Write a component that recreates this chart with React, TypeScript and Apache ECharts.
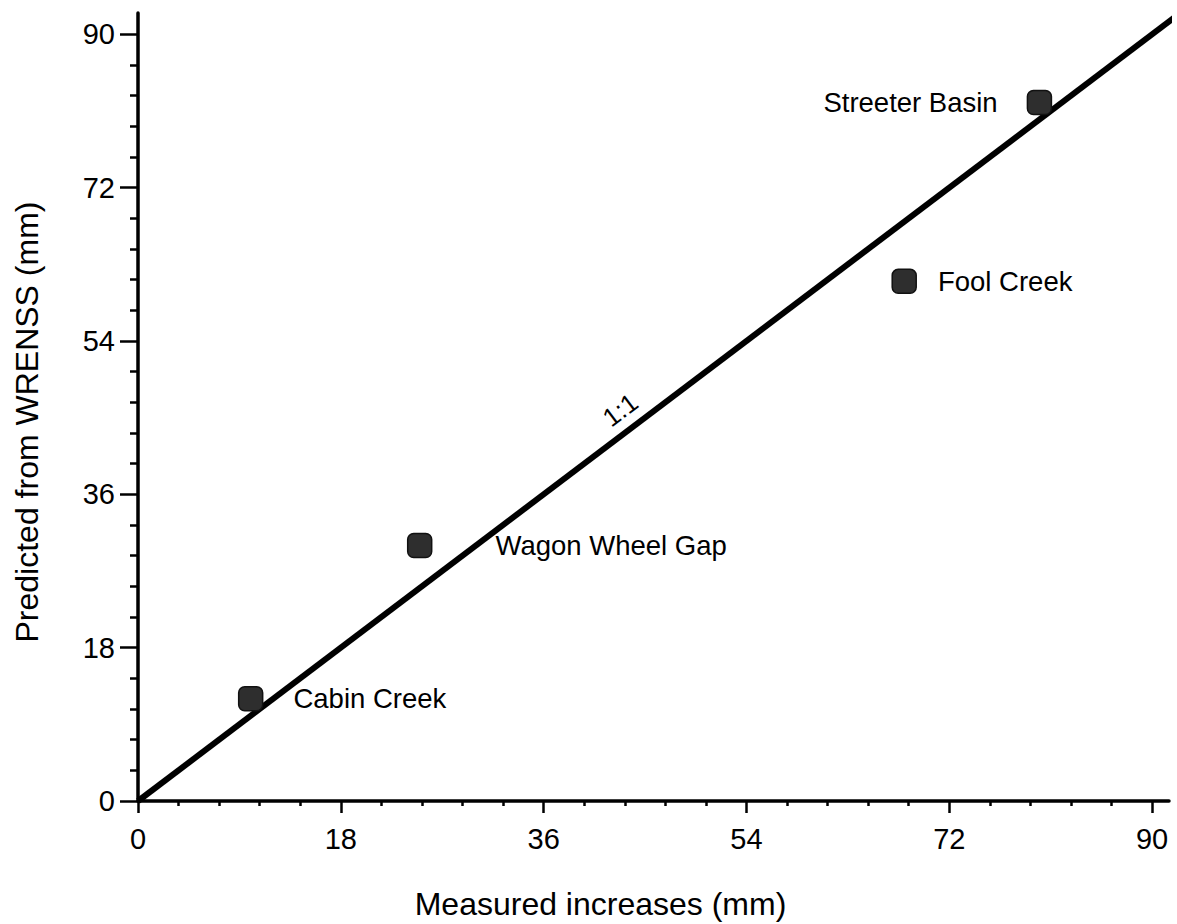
import React, { useEffect, useRef } from "react";
import * as echarts from "echarts";

const siteNames = ["Cabin Creek", "Wagon Wheel Gap", "Fool Creek", "Streeter Basin"];
const measured = [10, 25, 68, 80];
const predicted = [12, 30, 61, 82];
const labelSide = ["right", "right", "right", "left"];
const labelGap = [30, 63, 21, 29];

const majorTicks = [0, 18, 36, 54, 72, 90];
const minorTicks = [3.6, 7.2, 10.8, 14.4, 21.6, 25.2, 28.8, 32.4, 39.6, 43.2, 46.8, 50.4, 57.6, 61.2, 64.8, 68.4, 75.6, 79.2, 82.8, 86.4];
const oneToOne = [[0, 0], [94, 94]];
const oneToOneLabelAt = [42.8, 45.9];

const FONT = '"Liberation Sans", Arial, Helvetica, sans-serif';

export default function App() {
  const ref = useRef<HTMLDivElement>(null);
  useEffect(() => {
    if (!ref.current) return;
    const chart = echarts.init(ref.current, null, { renderer: "svg" });
    const axisLineStyle = { color: "#000", width: 3.5 };
    const makeMinorAxis = (max: number, len: number) => ({
      type: "value",
      min: 0,
      max,
      gridIndex: 0,
      axisLine: { show: false },
      axisLabel: { show: false },
      splitLine: { show: false },
      axisTick: { show: true, customValues: minorTicks, length: len, lineStyle: { color: "#000", width: 2.5 } },
    });
    chart.setOption({
      animation: false,
      backgroundColor: "#fff",
      textStyle: { fontFamily: FONT },
      grid: { left: 138, right: 8, top: 13, bottom: 123, containLabel: false, outerBoundsMode: "none" },
      xAxis: [
        {
          type: "value",
          min: 0,
          max: 91.5,
          position: "bottom",
          name: "Measured increases (mm)",
          nameLocation: "middle",
          nameGap: 87,
          nameTextStyle: { fontSize: 32, color: "#000", fontFamily: FONT, padding: [0, 106, 0, 0] },
          axisLine: { show: true, onZero: false, lineStyle: axisLineStyle },
          axisTick: { show: true, customValues: majorTicks, length: 12, lineStyle: { color: "#000", width: 2.5 } },
          axisLabel: { show: true, customValues: majorTicks, margin: 23, fontSize: 29, color: "#000", fontFamily: FONT },
          splitLine: { show: false },
        },
        { ...makeMinorAxis(91.5, 5), position: "bottom" },
      ],
      yAxis: [
        {
          type: "value",
          min: 0,
          max: 92.5,
          position: "left",
          name: "Predicted from WRENSS (mm)",
          nameLocation: "middle",
          nameGap: 95,
          nameTextStyle: { fontSize: 32, color: "#000", fontFamily: FONT, padding: [0, 30, 0, 0] },
          axisLine: { show: true, onZero: false, lineStyle: axisLineStyle },
          axisTick: { show: true, customValues: majorTicks, length: 18, lineStyle: { color: "#000", width: 2.5 } },
          axisLabel: { show: true, customValues: majorTicks, margin: 23, fontSize: 29, color: "#000", fontFamily: FONT },
          splitLine: { show: false },
        },
        { ...makeMinorAxis(92.5, 8), position: "left" },
      ],
      series: [
        {
          type: "line",
          data: oneToOne,
          clip: false,
          symbol: "none",
          silent: true,
          lineStyle: { color: "#000", width: 6 },
          z: 2,
          markPoint: {
            symbol: "circle",
            symbolSize: 0,
            silent: true,
            data: [{ coord: oneToOneLabelAt, value: "1:1" }],
            label: {
              show: true,
              position: "inside",
              formatter: "1:1",
              rotate: 37,
              fontSize: 26,
              color: "#000",
              fontFamily: FONT,
            },
          },
        },
        {
          type: "scatter",
          symbol: "roundRect",
          symbolSize: 24,
          z: 3,
          itemStyle: { color: "#2e2e2e", borderColor: "#111", borderWidth: 1.5, opacity: 1 },
          data: measured.map((m, i) => ({
            value: [m, predicted[i]],
            name: siteNames[i],
            label: {
              show: true,
              position: labelSide[i],
              distance: labelGap[i],
              formatter: siteNames[i],
              fontSize: 27.5,
              color: "#000",
              fontFamily: FONT,
            },
          })),
        },
      ],
    });
    return () => chart.dispose();
  }, []);
  return (
    <div
      ref={ref}
      style={{ position: "fixed", left: 0, top: 0, width: 1177, height: 924, background: "#fff" }}
    />
  );
}
